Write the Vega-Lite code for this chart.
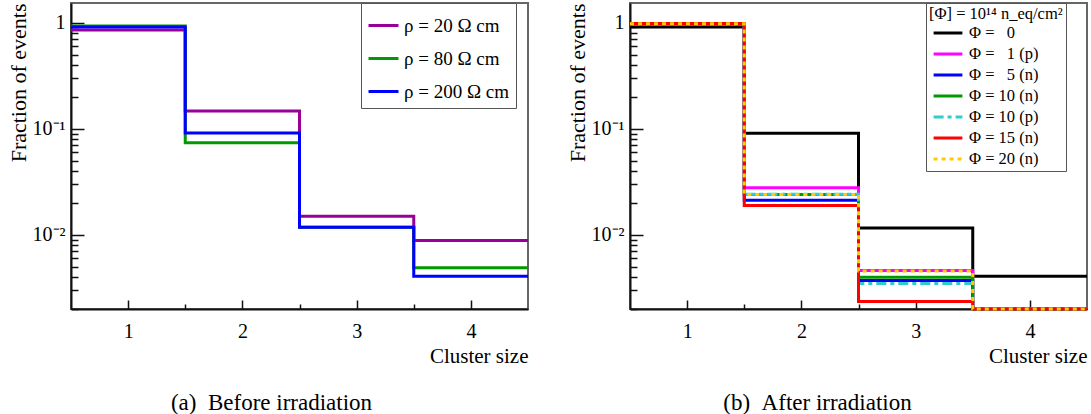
{
  "$schema": "https://vega.github.io/schema/vega-lite/v6.json",
  "padding": {"left": 6, "top": 1, "right": 0, "bottom": 0},
  "background": "white",
  "bounds": "flush",
  "spacing": 102,
  "resolve": {"scale": {"color": "independent", "strokeDash": "independent"}, "legend": {"color": "independent", "strokeDash": "independent"}},
  "config": {
    "font": "Liberation Serif",
    "view": {"stroke": "#666", "strokeWidth": 2},
    "axis": {
      "grid": false,
      "labelFont": "Liberation Serif",
      "labelFontSize": 20,
      "labelColor": "#000",
      "titleFont": "Liberation Serif",
      "titleFontSize": 21,
      "titleFontWeight": "normal",
      "titleColor": "#000",
      "domainColor": "#111",
      "domainWidth": 2,
      "tickColor": "#111",
      "tickWidth": 1.5
    },
    "legend": {
      "labelFont": "Liberation Serif",
      "titleFont": "Liberation Serif",
      "labelColor": "#000",
      "titleColor": "#000"
    },
    "title": {"font": "Liberation Serif", "fontWeight": "normal", "fontSize": 23, "color": "#000"}
  },
  "datasets": {
    "a": [
      {"s": "ρ = 20 Ω cm", "x": 0.5, "y": 0.85},
      {"s": "ρ = 20 Ω cm", "x": 1.5, "y": 0.147},
      {"s": "ρ = 20 Ω cm", "x": 2.5, "y": 0.0150},
      {"s": "ρ = 20 Ω cm", "x": 3.5, "y": 0.00885},
      {"s": "ρ = 20 Ω cm", "x": 4.5, "y": 0.00885},
      {"s": "ρ = 80 Ω cm", "x": 0.5, "y": 0.93},
      {"s": "ρ = 80 Ω cm", "x": 1.5, "y": 0.0738},
      {"s": "ρ = 80 Ω cm", "x": 2.5, "y": 0.0118},
      {"s": "ρ = 80 Ω cm", "x": 3.5, "y": 0.00489},
      {"s": "ρ = 80 Ω cm", "x": 4.5, "y": 0.00489},
      {"s": "ρ = 200 Ω cm", "x": 0.5, "y": 0.91},
      {"s": "ρ = 200 Ω cm", "x": 1.5, "y": 0.091},
      {"s": "ρ = 200 Ω cm", "x": 2.5, "y": 0.0118},
      {"s": "ρ = 200 Ω cm", "x": 3.5, "y": 0.00407},
      {"s": "ρ = 200 Ω cm", "x": 4.5, "y": 0.00407}
    ],
    "b": [
      {"s": "Φ = \u20070", "x": 0.5, "y": 0.91},
      {"s": "Φ = \u20070", "x": 1.5, "y": 0.0906},
      {"s": "Φ = \u20070", "x": 2.5, "y": 0.0116},
      {"s": "Φ = \u20070", "x": 3.5, "y": 0.00408},
      {"s": "Φ = \u20070", "x": 4.5, "y": 0.00408},
      {"s": "Φ = \u20071 (p)", "x": 0.5, "y": 0.97},
      {"s": "Φ = \u20071 (p)", "x": 1.5, "y": 0.0278},
      {"s": "Φ = \u20071 (p)", "x": 2.5, "y": 0.00461},
      {"s": "Φ = \u20071 (p)", "x": 3.5, "y": 0.002},
      {"s": "Φ = \u20071 (p)", "x": 4.5, "y": 0.002},
      {"s": "Φ = \u20075 (n)", "x": 0.5, "y": 0.975},
      {"s": "Φ = \u20075 (n)", "x": 1.5, "y": 0.0212},
      {"s": "Φ = \u20075 (n)", "x": 2.5, "y": 0.00371},
      {"s": "Φ = \u20075 (n)", "x": 3.5, "y": 0.002},
      {"s": "Φ = \u20075 (n)", "x": 4.5, "y": 0.002},
      {"s": "Φ = 10 (n)", "x": 0.5, "y": 0.975},
      {"s": "Φ = 10 (n)", "x": 1.5, "y": 0.0240},
      {"s": "Φ = 10 (n)", "x": 2.5, "y": 0.00398},
      {"s": "Φ = 10 (n)", "x": 3.5, "y": 0.002},
      {"s": "Φ = 10 (n)", "x": 4.5, "y": 0.002},
      {"s": "Φ = 10 (p)", "x": 0.5, "y": 0.975},
      {"s": "Φ = 10 (p)", "x": 1.5, "y": 0.0241},
      {"s": "Φ = 10 (p)", "x": 2.5, "y": 0.00348},
      {"s": "Φ = 10 (p)", "x": 3.5, "y": 0.002},
      {"s": "Φ = 10 (p)", "x": 4.5, "y": 0.002},
      {"s": "Φ = 15 (n)", "x": 0.5, "y": 0.98},
      {"s": "Φ = 15 (n)", "x": 1.5, "y": 0.0189},
      {"s": "Φ = 15 (n)", "x": 2.5, "y": 0.00235},
      {"s": "Φ = 15 (n)", "x": 3.5, "y": 0.002},
      {"s": "Φ = 15 (n)", "x": 4.5, "y": 0.002},
      {"s": "Φ = 20 (n)", "x": 0.5, "y": 0.975},
      {"s": "Φ = 20 (n)", "x": 1.5, "y": 0.0240},
      {"s": "Φ = 20 (n)", "x": 2.5, "y": 0.00455},
      {"s": "Φ = 20 (n)", "x": 3.5, "y": 0.002},
      {"s": "Φ = 20 (n)", "x": 4.5, "y": 0.002}
    ]
  },
  "hconcat": [
    {
      "width": 457,
      "height": 306,
      "data": {"name": "a"},
      "title": {"text": "(a)\u2002Before irradiation", "orient": "bottom", "anchor": "middle", "dx": -28, "offset": 26, "font": "Liberation Serif"},
      "mark": {"type": "line", "interpolate": "step-after", "strokeWidth": 3},
      "encoding": {
        "x": {
          "field": "x", "type": "quantitative",
          "scale": {"domain": [0.5, 4.5], "nice": false, "zero": false},
          "axis": {
            "title": "Cluster size", "titleAnchor": "end", "titlePadding": 4,
            "labelFont": "Liberation Serif", "titleFont": "Liberation Serif",
            "values": [1, 1.5, 2, 2.5, 3, 3.5, 4],
            "labelExpr": "datum.value % 1 == 0 ? format(datum.value, 'd') : ''",
            "tickSize": {"condition": {"test": "datum.value % 1 == 0", "value": -9}, "value": -5},
            "labelPadding": 21, "labelFlush": false
          }
        },
        "y": {
          "field": "y", "type": "quantitative",
          "scale": {"type": "log", "domain": [0.002, 1.53], "nice": false},
          "axis": {
            "title": "Fraction of events", "titleAnchor": "end", "titlePadding": 2, "titleFontSize": 22,
            "labelFont": "Liberation Serif", "titleFont": "Liberation Serif",
            "values": [0.002, 0.003, 0.004, 0.005, 0.006, 0.007, 0.008, 0.009, 0.01, 0.02, 0.03, 0.04, 0.05, 0.06, 0.07, 0.08, 0.09, 0.1, 0.2, 0.3, 0.4, 0.5, 0.6, 0.7, 0.8, 0.9, 1],
            "labelExpr": "datum.value == 1 ? '1' : (abs(datum.value - 0.1) < 1e-9 ? '10⁻¹' : (abs(datum.value - 0.01) < 1e-9 ? '10⁻²' : ''))",
            "tickSize": {"condition": {"test": "datum.value == 1 || abs(datum.value - 0.1) < 1e-9 || abs(datum.value - 0.01) < 1e-9", "value": -13}, "value": -7},
            "labelPadding": 19, "labelFlush": false
          }
        },
        "color": {
          "field": "s", "type": "nominal",
          "scale": {"domain": ["ρ = 20 Ω cm", "ρ = 80 Ω cm", "ρ = 200 Ω cm"], "range": ["#990099", "#009900", "#0000ff"]},
          "legend": {
            "orient": "none", "legendX": 290, "legendY": 0, "title": null,
            "symbolType": "stroke", "symbolSize": 900, "symbolStrokeWidth": 3,
            "labelFontSize": 19, "labelOffset": 4, "padding": 6, "rowPadding": 6,
            "strokeColor": "#555", "fillColor": "white",
            "labelExpr": "datum.label + '\u00a0\u00a0\u00a0\u00a0\u00a0\u00a0'"
          }
        }
      }
    },
    {
      "width": 457,
      "height": 306,
      "data": {"name": "b"},
      "title": {"text": "(b)\u2002After irradiation", "orient": "bottom", "anchor": "middle", "dx": -41, "offset": 26, "font": "Liberation Serif"},
      "mark": {"type": "line", "interpolate": "step-after", "strokeWidth": 3},
      "encoding": {
        "x": {
          "field": "x", "type": "quantitative",
          "scale": {"domain": [0.5, 4.5], "nice": false, "zero": false},
          "axis": {
            "title": "Cluster size", "titleAnchor": "end", "titlePadding": 4,
            "labelFont": "Liberation Serif", "titleFont": "Liberation Serif",
            "values": [1, 1.5, 2, 2.5, 3, 3.5, 4],
            "labelExpr": "datum.value % 1 == 0 ? format(datum.value, 'd') : ''",
            "tickSize": {"condition": {"test": "datum.value % 1 == 0", "value": -9}, "value": -5},
            "labelPadding": 21, "labelFlush": false
          }
        },
        "y": {
          "field": "y", "type": "quantitative",
          "scale": {"type": "log", "domain": [0.002, 1.53], "nice": false},
          "axis": {
            "title": "Fraction of events", "titleAnchor": "end", "titlePadding": 2, "titleFontSize": 22,
            "labelFont": "Liberation Serif", "titleFont": "Liberation Serif",
            "values": [0.002, 0.003, 0.004, 0.005, 0.006, 0.007, 0.008, 0.009, 0.01, 0.02, 0.03, 0.04, 0.05, 0.06, 0.07, 0.08, 0.09, 0.1, 0.2, 0.3, 0.4, 0.5, 0.6, 0.7, 0.8, 0.9, 1],
            "labelExpr": "datum.value == 1 ? '1' : (abs(datum.value - 0.1) < 1e-9 ? '10⁻¹' : (abs(datum.value - 0.01) < 1e-9 ? '10⁻²' : ''))",
            "tickSize": {"condition": {"test": "datum.value == 1 || abs(datum.value - 0.1) < 1e-9 || abs(datum.value - 0.01) < 1e-9", "value": -13}, "value": -7},
            "labelPadding": 19, "labelFlush": false
          }
        },
        "color": {
          "field": "s", "type": "nominal",
          "scale": {"domain": ["Φ = \u20070", "Φ = \u20071 (p)", "Φ = \u20075 (n)", "Φ = 10 (n)", "Φ = 10 (p)", "Φ = 15 (n)", "Φ = 20 (n)"], "range": ["#000000", "#ff00ff", "#0000ff", "#009900", "#33cccc", "#ff0000", "#ffcc00"]},
          "legend": {
            "orient": "none", "legendX": 296, "legendY": 0, "title": "[Φ] = 10¹⁴ n_eq/cm²",
            "titleFontSize": 16.5, "titleFontWeight": "normal", "titlePadding": 1,
            "symbolType": "M-1.8,0H1.8", "symbolSize": 256, "symbolStrokeWidth": 3, "symbolOffset": 9.5,
            "labelFontSize": 16.5, "labelOffset": 11.5, "padding": 3, "rowPadding": 3,
            "strokeColor": "#555", "fillColor": "white",
            "labelExpr": "datum.label + '\u00a0\u00a0\u00a0\u00a0\u00a0\u00a0\u00a0\u00a0\u00a0\u00a0'"
          }
        },
        "strokeDash": {
          "field": "s", "type": "nominal",
          "scale": {"domain": ["Φ = \u20070", "Φ = \u20071 (p)", "Φ = \u20075 (n)", "Φ = 10 (n)", "Φ = 10 (p)", "Φ = 15 (n)", "Φ = 20 (n)"], "range": [[1, 0], [1, 0], [1, 0], [1, 0], [10, 4, 4, 4], [1, 0], [4, 4]]},
          "legend": {
            "orient": "none", "legendX": 296, "legendY": 0, "title": "[Φ] = 10¹⁴ n_eq/cm²",
            "titleFontSize": 16.5, "titleFontWeight": "normal", "titlePadding": 1,
            "symbolType": "M-1.8,0H1.8", "symbolSize": 256, "symbolStrokeWidth": 3, "symbolOffset": 9.5,
            "labelFontSize": 16.5, "labelOffset": 11.5, "padding": 3, "rowPadding": 3,
            "strokeColor": "#555", "fillColor": "white",
            "labelExpr": "datum.label + '\u00a0\u00a0\u00a0\u00a0\u00a0\u00a0\u00a0\u00a0\u00a0\u00a0'"
          }
        }
      }
    }
  ]
}
